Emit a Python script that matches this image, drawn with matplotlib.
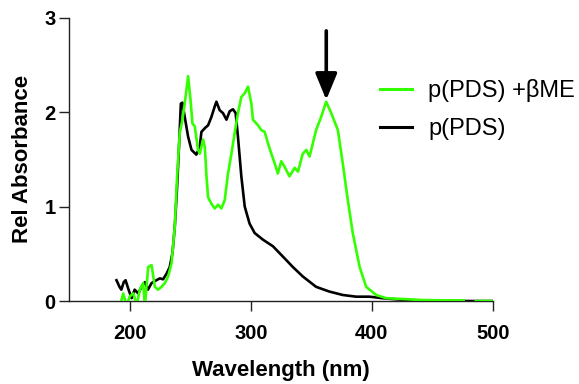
import numpy as np
import matplotlib
matplotlib.use("Agg")
import matplotlib.pyplot as plt

plt.rcParams['font.family'] = ['Liberation Sans', 'DejaVu Sans']

# --- data ---
wl_ppds = [189, 191.5, 193, 195, 196.5, 199, 201.5, 204, 207, 209.7, 212.5, 215, 218, 222,
           224.8, 227.5, 230.4, 233, 235.3, 237.2, 239.1, 240.8, 242.2, 243.5, 245.4, 248.2,
           251, 255, 257.8, 259.2, 262, 264.7, 267.5, 270.2, 271.6, 274.3, 277, 279.9, 282.6,
           285.3, 287.5, 289.4, 292.2, 295, 299, 303.2, 310, 318.3, 326.6, 334.8, 343, 354,
           365, 376, 387, 398, 409, 428, 450, 480, 500]
abs_ppds = [0.22, 0.15, 0.12, 0.2, 0.22, 0.12, 0.03, 0.12, 0.08, 0.15, 0.2, 0.12, 0.19, 0.22,
            0.24, 0.23, 0.29, 0.36, 0.51, 0.79, 1.21, 1.67, 2.09, 2.10, 1.95, 1.74,
            1.60, 1.55, 1.63, 1.79, 1.83, 1.86, 1.95, 2.06, 2.11, 2.02, 1.99, 1.92, 2.01,
            2.03, 1.99, 1.74, 1.32, 1.00, 0.82, 0.72, 0.65, 0.58, 0.47, 0.36, 0.26, 0.15,
            0.10, 0.064, 0.046, 0.046, 0.03, 0.01, 0.005, 0.0, 0.0]

wl_bme = [191.8, 194.6, 197.4, 200, 203, 205.6, 208.3, 211, 212.5, 215.2, 218, 220.7, 223.4,
          226.2, 229, 231.7, 234.5, 237.2, 239.1, 241.3, 243.5, 245.4, 248.2, 250.2, 251.8,
          253.7, 256.4, 257.8, 260.6, 262, 263.4, 264.7, 267.5, 270.2, 273, 275.7, 278.5,
          281.2, 284, 286.7, 289.4, 292.2, 295, 297.7, 300.5, 301.8, 306, 308.7, 311.5, 314.2,
          317, 319.7, 322.4, 325.2, 328, 332, 336.3, 339, 343, 345.9, 348.6, 351.3, 354,
          358.2, 362.3, 366.5, 372, 376, 380.2, 384.3, 390, 395.4, 403.6, 412, 442, 476,
          477, 486, 494, 495, 496, 499]
abs_bme = [-0.05, 0.08, -0.05, 0.05, 0.08, -0.05, 0.12, 0.19, -0.05, 0.36, 0.38, 0.15, 0.12,
           0.15, 0.19, 0.26, 0.40, 0.79, 1.32, 1.78, 1.92, 2.09, 2.38, 2.13, 1.88,
           1.85, 1.60, 1.56, 1.71, 1.63, 1.32, 1.10, 1.03, 0.98, 1.02, 0.98, 1.07,
           1.35, 1.56, 1.78, 1.99, 2.16, 2.20, 2.27, 2.09, 1.92, 1.86, 1.81, 1.79, 1.67,
           1.56, 1.46, 1.35, 1.48, 1.42, 1.32, 1.41, 1.37, 1.56, 1.60, 1.53, 1.67, 1.81,
           1.95, 2.11, 1.99, 1.81, 1.46, 1.07, 0.72, 0.36, 0.15, 0.064, 0.03, 0.01, 0.005,
           np.nan, 0.0, 0.0, np.nan, 0.0, 0.0]

labels = ['p(PDS) +\u03b2ME', 'p(PDS)']
x_ticks = [200, 300, 400, 500]
y_ticks = [0, 1, 2, 3]
arrow_x = 362.4
arrow_y = (2.13, 2.86)

green = '#33ff00'

fig = plt.figure(figsize=(5.79, 3.84), dpi=100)
ax = fig.add_axes([0.1197, 0.2161, 0.851 - 0.1197, 0.954 - 0.2161])

l_black, = ax.plot(wl_ppds, abs_ppds, color='black', lw=1.9, label=labels[1], zorder=2)
l_green, = ax.plot(wl_bme, abs_bme, color=green, lw=1.9, label=labels[0], zorder=3)

ax.set_xlim(150, 500)
ax.set_ylim(0, 3)
ax.set_xticks(x_ticks)
ax.set_yticks(y_ticks)
for s in ['top', 'right']:
    ax.spines[s].set_visible(False)
for s in ['left', 'bottom']:
    ax.spines[s].set_linewidth(1.0)
    ax.spines[s].set_color('#222222')

ax.tick_params(axis='x', length=7.5, width=1.0, pad=9, labelsize=14.5, color='#222222')
ax.tick_params(axis='y', length=7.5, width=1.0, pad=2.5, labelsize=14.5, color='#222222')
for t in ax.get_xticklabels() + ax.get_yticklabels():
    t.set_fontweight('bold')

ax.set_xlabel('Wavelength (nm)', fontsize=16, fontweight='bold')
ax.set_ylabel('Rel Absorbance', fontsize=16, fontweight='bold')
ax.xaxis.set_label_coords(0.5, -0.208)
ax.yaxis.set_label_coords(-0.086, 0.5)

ax.annotate('', xy=(arrow_x, arrow_y[0]), xytext=(arrow_x, arrow_y[1]),
            arrowprops=dict(arrowstyle='-|>,head_length=0.8,head_width=0.33',
                            color='black', lw=2.6, shrinkA=0, shrinkB=0,
                            mutation_scale=20))

leg = ax.legend(handles=[l_green, l_black], frameon=False, fontsize=17,
                loc='upper left', bbox_to_anchor=(380 / 579, 1 - 79 / 384),
                bbox_transform=fig.transFigure, borderpad=0, borderaxespad=0,
                handlelength=1.35, handletextpad=0.7, labelspacing=0.68)
for h in leg.get_lines():
    h.set_linewidth(2.2)

fig.savefig('out.png', dpi=100)
